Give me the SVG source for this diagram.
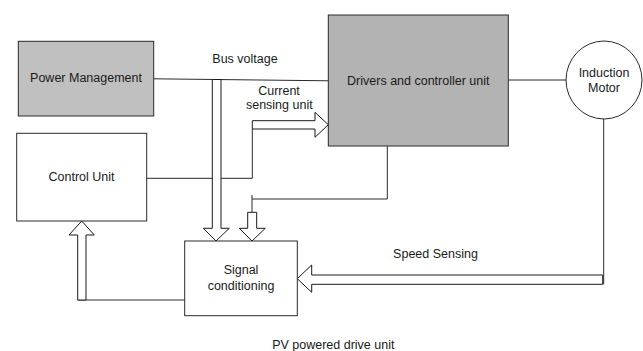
<svg xmlns="http://www.w3.org/2000/svg" width="643" height="351" viewBox="0 0 643 351">
<style>
  .box { stroke: #2a2a2a; stroke-width: 1; }
  .ln { stroke: #2a2a2a; stroke-width: 1; fill: none; }
  .harrow { fill: #ffffff; stroke: #1a1a1a; stroke-width: 1; stroke-linejoin: miter; }
  text { font-family: "Liberation Sans", Arial, sans-serif; font-size: 12.5px; fill: #1a1a1a; text-anchor: middle; }
</style>
<rect x="0" y="0" width="643" height="351" fill="#ffffff"/>
<g id="connectors">
  <line class="ln" x1="153.7" y1="78.8" x2="328.3" y2="80.8"/>
  <line class="ln" x1="508.3" y1="80" x2="566" y2="80"/>
  <polyline class="ln" points="146.7,178.3 252.3,178.3 252.3,129"/>
  <polyline class="ln" points="387.3,146 387.3,199 252,199"/>
  <line class="ln" x1="252" y1="195" x2="252" y2="212.3"/>
  <line class="ln" x1="77.7" y1="300" x2="184.7" y2="300"/>
  <line class="ln" x1="603.7" y1="119" x2="603.7" y2="284.3"/>
  <polygon class="harrow" points="212.3,79.5 221,79.5 221,228.3 229.3,228.3 216,241 203.3,228.3 212.3,228.3"/>
  <polygon class="harrow" points="247.7,212.3 256.7,212.3 256.7,228.3 265.3,228.3 252,241 239.3,228.3 247.7,228.3"/>
  <polygon class="harrow" points="252.3,120.7 315,120.7 315,112.3 328.3,124.7 315,137.3 315,129 252.3,129"/>
  <polygon class="harrow" points="77.7,300 77.7,235 69,235 81.7,221 94.3,235 86,235 86,300"/>
  <polygon class="harrow" points="602.7,275 311.7,275 311.7,265 297.3,278.7 311.7,292.3 311.7,284.3 602.7,284.3"/>
  <text x="245" y="63.3">Bus voltage</text>
  <text x="279" y="95">Current</text>
  <text x="279.3" y="109">sensing unit</text>
  <text x="435.5" y="258.3">Speed Sensing</text>
</g>
<g id="power-management">
  <rect class="box" x="18.3" y="41.3" width="135.4" height="74.7" fill="#c0c0c0"/>
  <text x="86" y="82">Power Management</text>
</g>
<g id="control-unit">
  <rect class="box" x="16.7" y="133.3" width="130" height="87.7" fill="#ffffff"/>
  <text x="81.5" y="181">Control Unit</text>
</g>
<g id="drivers-controller">
  <rect class="box" x="328.3" y="15" width="180" height="131" fill="#b3b3b3"/>
  <text x="418.3" y="85">Drivers and controller unit</text>
</g>
<g id="induction-motor">
  <ellipse class="box" cx="604" cy="80" rx="38" ry="39" fill="#ffffff"/>
  <text x="604" y="77.3">Induction</text>
  <text x="604" y="92.3">Motor</text>
</g>
<g id="signal-conditioning">
  <rect class="box" x="184.7" y="241" width="112.6" height="74.7" fill="#ffffff"/>
  <text x="241" y="274.3">Signal</text>
  <text x="241" y="290">conditioning</text>
</g>
<g id="caption">
  <text x="333.3" y="349">PV powered drive unit</text>
</g>
</svg>
